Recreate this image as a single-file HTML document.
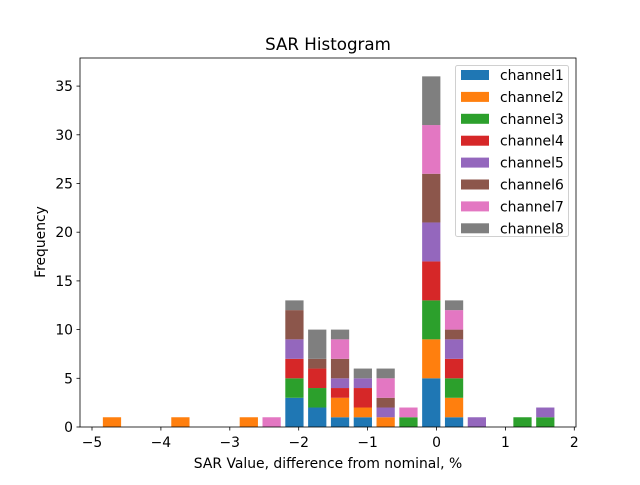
<!DOCTYPE html>
<html><head><meta charset="utf-8"><style>
body{margin:0;background:#fff;font-family:"Liberation Sans","DejaVu Sans",sans-serif;}
svg text{font-family:"DejaVu Sans","Liberation Sans",sans-serif;}
</style></head><body>
<svg id="chart" width="640" height="480" viewBox="0 0 640 480" xmlns="http://www.w3.org/2000/svg">
<rect width="640" height="480" fill="#fff"/>
<text x="328" y="50" font-size="16.7" text-anchor="middle">SAR Histogram</text>
<g id="bars"></g>
<rect x="80" y="58" width="496" height="369" fill="none" stroke="#000" stroke-width="0.8"/>
<g id="xticks"></g>
<g id="yticks"></g>
<text x="328" y="468" font-size="13.9" text-anchor="middle">SAR Value, difference from nominal, %</text>
<text transform="translate(45,242) rotate(-90)" font-size="13.9" text-anchor="middle">Frequency</text>
<g id="legend"></g>
</svg>
<script>
const binStart = -4.71;
const binWidth = 0.331;
const seriesNames = ["channel1","channel2","channel3","channel4","channel5","channel6","channel7","channel8"];
const colors = ["#1f77b4","#ff7f0e","#2ca02c","#d62728","#9467bd","#8c564b","#e377c2","#7f7f7f"];
const ch1 = [0,0,0,0,0,0,0,0,3,2,1,1,0,0,5,1,0,0,0,0];
const ch2 = [1,0,0,1,0,0,1,0,0,0,2,1,1,0,4,2,0,0,0,0];
const ch3 = [0,0,0,0,0,0,0,0,2,2,0,0,0,1,4,2,0,0,1,1];
const ch4 = [0,0,0,0,0,0,0,0,2,2,1,2,0,0,4,2,0,0,0,0];
const ch5 = [0,0,0,0,0,0,0,0,2,0,1,1,1,0,4,2,1,0,0,1];
const ch6 = [0,0,0,0,0,0,0,0,3,1,2,0,1,0,5,1,0,0,0,0];
const ch7 = [0,0,0,0,0,0,0,1,0,0,2,0,2,1,5,2,0,0,0,0];
const ch8 = [0,0,0,0,0,0,0,0,1,3,1,1,1,0,5,1,0,0,0,0];
const xTicks = [-5,-4,-3,-2,-1,0,1,2];
const yTicks = [0,5,10,15,20,25,30,35];
const series = [ch1,ch2,ch3,ch4,ch5,ch6,ch7,ch8];
const NS="http://www.w3.org/2000/svg";
function X(v){return 92+(v+5)*68.9;}
function Y(v){return 427-v*9.74;}
function mk(tag,attrs,parent){const e=document.createElementNS(NS,tag);for(const k in attrs)e.setAttribute(k,attrs[k]);parent.appendChild(e);return e;}
const bars=document.getElementById('bars');
const nb=ch1.length;
for(let i=0;i<nb;i++){
  let base=0;
  const c=binStart+binWidth*i;
  for(let s=0;s<series.length;s++){
    const v=series[s][i];
    if(v>0){
      const r=mk('rect',{x:X(c-binWidth*0.4),y:Y(base+v),width:X(c+binWidth*0.4)-X(c-binWidth*0.4),height:Y(base)-Y(base+v),fill:colors[s]},bars);
      
      
    }
    base+=v;
  }
}
const xg=document.getElementById('xticks');
xTicks.forEach(t=>{
  mk('line',{x1:X(t),x2:X(t),y1:427,y2:430.5,stroke:'#000','stroke-width':0.8},xg);
  const tx=mk('text',{x:X(t),y:447,'font-size':13.9,'text-anchor':'middle'},xg);
  tx.textContent=(t<0?'\u2212'+(-t):t);
  
  
});
const yg=document.getElementById('yticks');
yTicks.forEach(t=>{
  mk('line',{x1:76.5,x2:80,y1:Y(t),y2:Y(t),stroke:'#000','stroke-width':0.8},yg);
  const tx=mk('text',{x:73,y:Y(t)+5,'font-size':13.9,'text-anchor':'end'},yg);
  tx.textContent=t;
  
  
});
const lg=document.getElementById('legend');
mk('rect',{x:455.5,y:65.5,width:113,height:171,rx:2,fill:'#fff',stroke:'#ccc','stroke-width':1,opacity:0.9},lg);
seriesNames.forEach((n,i)=>{
  const y=75+i*21.9;
  const sw=mk('rect',{x:461,y:y-5,width:28,height:10,fill:colors[i]},lg);
  
  
  const t=mk('text',{x:500,y:y+5,'font-size':13.9},lg);
  t.textContent=n;
  
  
});
</script>
</body></html>
